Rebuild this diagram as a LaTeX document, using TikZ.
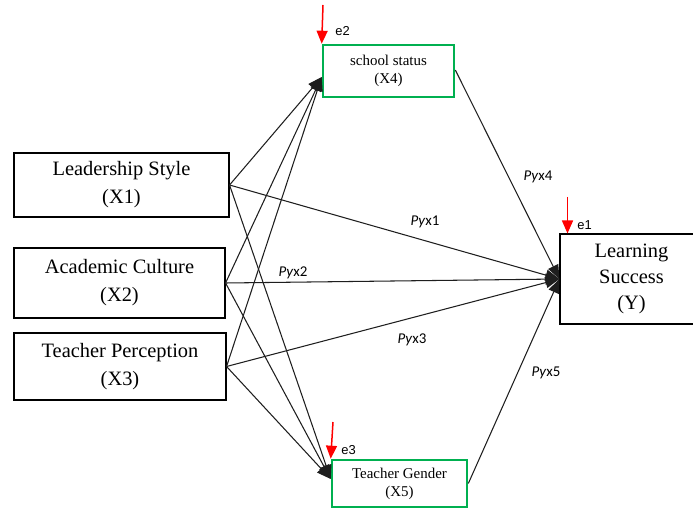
\documentclass[tikz,border=0pt]{standalone}
\usepackage{fontspec}
\setmainfont{Liberation Serif}
\newfontfamily\calibfont{Carlito}
\newfontfamily\arialfont{Liberation Sans}
\usetikzlibrary{arrows.meta}
\definecolor{boxgreen}{RGB}{0,176,80}
\definecolor{linegray}{RGB}{30,30,30}
\begin{document}
\begin{tikzpicture}[x=1bp,y=-1bp,
  varbox/.style={draw=black, line width=1.1bp, align=center, inner sep=0pt,
    font=\fontsize{20.5}{28}\selectfont},
  ybox/.style={varbox, font=\fontsize{20.5}{26}\selectfont},
  modbox/.style={draw=boxgreen, line width=2.6bp, align=center, inner sep=0pt,
    font=\fontsize{15}{18}\selectfont},
  conn/.style={draw=linegray, line width=1.05bp, -{Triangle[length=14bp,width=11bp]}},
  errarrow/.style={draw=red, line width=1.5bp, -{Triangle[length=13bp,width=11bp]}},
  coef/.style={font=\calibfont\fontsize{15}{17}\selectfont, inner sep=0pt},
  errlab/.style={font=\arialfont\fontsize{13}{15}\selectfont, inner sep=0pt}
  ]
\useasboundingbox (0,0) rectangle (693,509);
\clip (0,0) rectangle (693,509);
\fill[white] (0,0) rectangle (693,509);

% variable boxes
\node[varbox, minimum width=215bp, minimum height=64bp] (x1) at (121.5,185) {Leadership Style\\(X1)};
\node[varbox, minimum width=211bp, minimum height=70bp] (x2) at (119.5,283) {Academic Culture\\(X2)};
\node[varbox, minimum width=212bp, minimum height=67bp] (x3) at (120,366.5) {Teacher Perception\\(X3)};
\node[modbox, minimum width=131bp, minimum height=52bp] (x4) at (388.5,71) {school status\\(X4)};
\node[modbox, minimum width=135bp, minimum height=47bp] (x5) at (399.5,483.5) {Teacher Gender\\(X5)};
\node[ybox, minimum width=143bp, minimum height=90bp] (y) at (631.5,279) {Learning\\Success\\(Y)};

% attachment points
\coordinate (x4in) at ([yshift=-6bp]x4.west);
\coordinate (x5in) at ([yshift=4.5bp]x5.west);
\coordinate (x4out) at ([yshift=1bp]x4.east);
\coordinate (yin) at (y.west);

% connectors
\foreach \s in {x1,x2,x3}{
  \draw[conn] (\s.east) -- (x4in);
  \draw[conn] (\s.east) -- (x5in);
  \draw[conn] (\s.east) -- (yin);
}
\draw[conn] (x4out) -- (yin);
\draw[conn] (x5.east) -- (yin);

% coefficient labels
\node[coef] (p4) at (538,177) {\textit{Py}x4};
\node[coef] (p1) at (425,222) {\textit{Py}x1};
\node[coef] (p2) at (293,273) {\textit{Py}x2};
\node[coef] (p3) at (412,340) {\textit{Py}x3};
\node[coef] (p5) at (546,373) {\textit{Py}x5};

% error terms
\coordinate (e2top) at (323,5);
\coordinate (e3top) at (333,422);
\coordinate (e1top) at (567.5,197);
\draw[errarrow] (e2top) -- (x4.north west);
\draw[errarrow] (e3top) -- (x5.north west);
\draw[errarrow] (e1top) -- (e1top |- y.north);
\node[errlab] (e2) at (342.5,31) {e2};
\node[errlab] (e3) at (348.5,450) {e3};
\node[errlab] (e1) at (584.5,225) {e1};
\end{tikzpicture}
\end{document}
